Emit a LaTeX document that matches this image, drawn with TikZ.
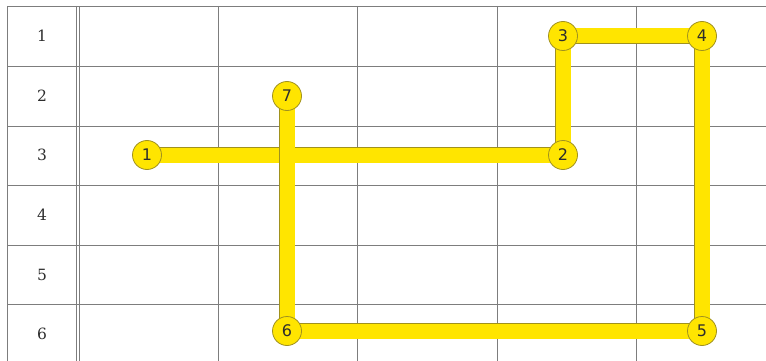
\documentclass[tikz,border=0pt]{standalone}
\usepackage{fontspec}
\newfontfamily\stopfont{DejaVu Sans}
\newfontfamily\rowfont{DejaVu Serif}
\definecolor{pathyellow}{RGB}{255,229,0}
\definecolor{pathrim}{RGB}{160,145,30}
\definecolor{gridgray}{RGB}{125,125,125}
\definecolor{labelgray}{RGB}{45,45,45}
\pgfdeclarelayer{grid}
\pgfdeclarelayer{track}
\pgfsetlayers{grid,track,main}

\begin{document}
\begin{tikzpicture}[x=1pt,y=-1pt,
  gridline/.style={gridgray,line width=0.9pt},
  rowlabel/.style={labelgray,font=\rowfont\fontsize{15.5}{15.5}\selectfont},
  stop/.style={circle,draw=pathrim,fill=pathyellow,line width=0.8pt,text=labelgray,
    minimum size=29pt,inner sep=0pt,font=\stopfont\fontsize{16}{16}\selectfont},
  track/.style={draw=pathrim,double=pathyellow,double distance=15pt,line width=0.8pt}]
\useasboundingbox (0,0) rectangle (766,361);

% Grid
\begin{pgfonlayer}{grid}
\foreach \y in {6,66,126,185,245,304}
  \draw[gridline] (7,\y) -- (766,\y);
\foreach \x in {7,76.5,79.5,218,357,497,636}
  \draw[gridline] (\x,6) -- (\x,361);
\end{pgfonlayer}

% Row numbers
\foreach \r/\y in {1/36,2/96,3/155,4/215,5/275,6/334}
  \node[rowlabel] (row\r) at (42,\y) {\r};

% Stops
\node[stop] (s1) at (147,155) {1};
\node[stop] (s2) at (563,155) {2};
\node[stop] (s3) at (563,36) {3};
\node[stop] (s4) at (702,36) {4};
\node[stop] (s5) at (702,331) {5};
\node[stop] (s6) at (287,331) {6};
\node[stop] (s7) at (287,96) {7};

% Track between stops
\begin{pgfonlayer}{track}
\foreach \a/\b in {1/2,2/3,3/4,4/5,5/6,6/7}
  \draw[track] (s\a.center) -- (s\b.center);
\end{pgfonlayer}
\end{tikzpicture}
\end{document}
